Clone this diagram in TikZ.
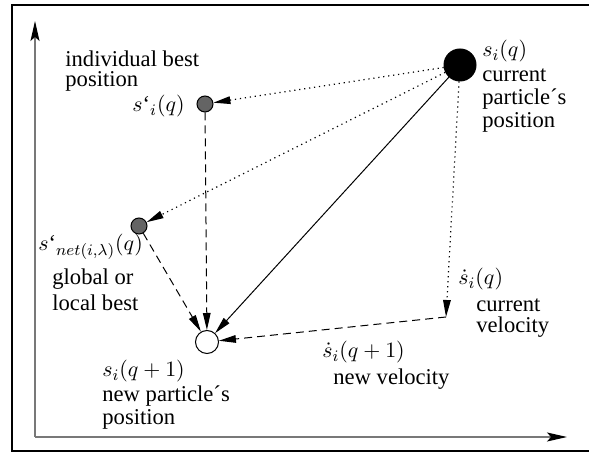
\documentclass[tikz,border=0pt]{standalone}
\usepackage{fontspec}
\setmainfont{Liberation Serif}
\usetikzlibrary{arrows.meta}
\definecolor{axisgray}{RGB}{120,120,120}
\definecolor{bestgray}{RGB}{100,100,100}
\tikzset{
  txt/.style={font=\fontsize{11.3}{11.5}\selectfont, inner sep=0pt, align=left},
  part/.style={circle, draw=black, line width=0.5pt, inner sep=0pt},
  curpart/.style={part, fill=black, minimum size=16pt},
  bestpart/.style={part, fill=bestgray, minimum size=8pt},
  newpart/.style={part, fill=white, minimum size=11.5pt},
  tip/.style={-{Triangle[length=8.5pt,width=3.8pt]}},
  dotflow/.style={tip, line width=0.6pt, dash pattern=on 0.6pt off 1.9pt},
  dashflow/.style={tip, line width=0.5pt, dash pattern=on 4pt off 2.5pt},
  moveflow/.style={tip, line width=0.5pt},
  axis/.style={-{Stealth[length=10pt,width=4.5pt,inset=2pt,black]}, axisgray, line width=0.6pt},
}
\begin{document}
\begin{tikzpicture}[x=0.5pt, y=-0.5pt]
    \clip (0,0) rectangle (589,453);
    % frame and axes
    \draw[line width=1.2pt] (12,5) rectangle (600,451);
    \coordinate (o) at (35,437);
    \coordinate (ytop) at (35,21);
    \coordinate (xend) at (567,437);
    \draw[axis] (o) -- (ytop);
    \draw[axis] (o) -- (xend);
    % particles
    \node[curpart] (cur) at (460,65) {};
    \node[bestpart] (ibest) at (205,104) {};
    \node[bestpart] (gbest) at (139,226) {};
    \node[newpart] (next) at (207,342) {};
    \coordinate (vel) at (446,317);
    % labels (base = last line)
    \node[txt, anchor=base west] (indivlbl) at (65,87) {individual best\\[-1.5pt]position};
    \node[txt, anchor=base east] (ibestlbl) at (185,112) {$s\mbox{`}_i(q)$};
    \node[txt, anchor=base west] (curlbl) at (482,128) {$s_i(q)$\\[1pt]current\\particle´s\\position};
    \node[txt, anchor=base west] (gbestlbl) at (38,251) {$s\mbox{`}_{net(i,\lambda)}(q)$};
    \node[txt, anchor=base west] (globlbl) at (52,311) {global or\\[1.5pt]local best};
    \node[txt, anchor=base west] (nextlbl) at (102,425) {$s_i(q+1)$\\[1pt]new particle´s\\position};
    \node[txt, anchor=base west] (vellbl) at (458,285) {$\dot{s}_i(q)$};
    \node[txt, anchor=base west] (curvellbl) at (476,333) {current\\[-1pt]velocity};
    \node[txt, anchor=base west] (newvellbl) at (322,358) {$\dot{s}_i(q+1)$};
    \node[txt, anchor=base west] (newvel) at (333,385) {new velocity};
    % moves
    \draw[dotflow] (cur) -- (ibest);
    \draw[dotflow] (cur) -- (gbest);
    \draw[dotflow] (cur) -- (vel);
    \draw[moveflow] (cur) -- (next);
    \draw[dashflow] (ibest) -- (next);
    \draw[dashflow] (gbest) -- (next);
    \draw[dashflow] (vel) -- (next);
\end{tikzpicture}
\end{document}
